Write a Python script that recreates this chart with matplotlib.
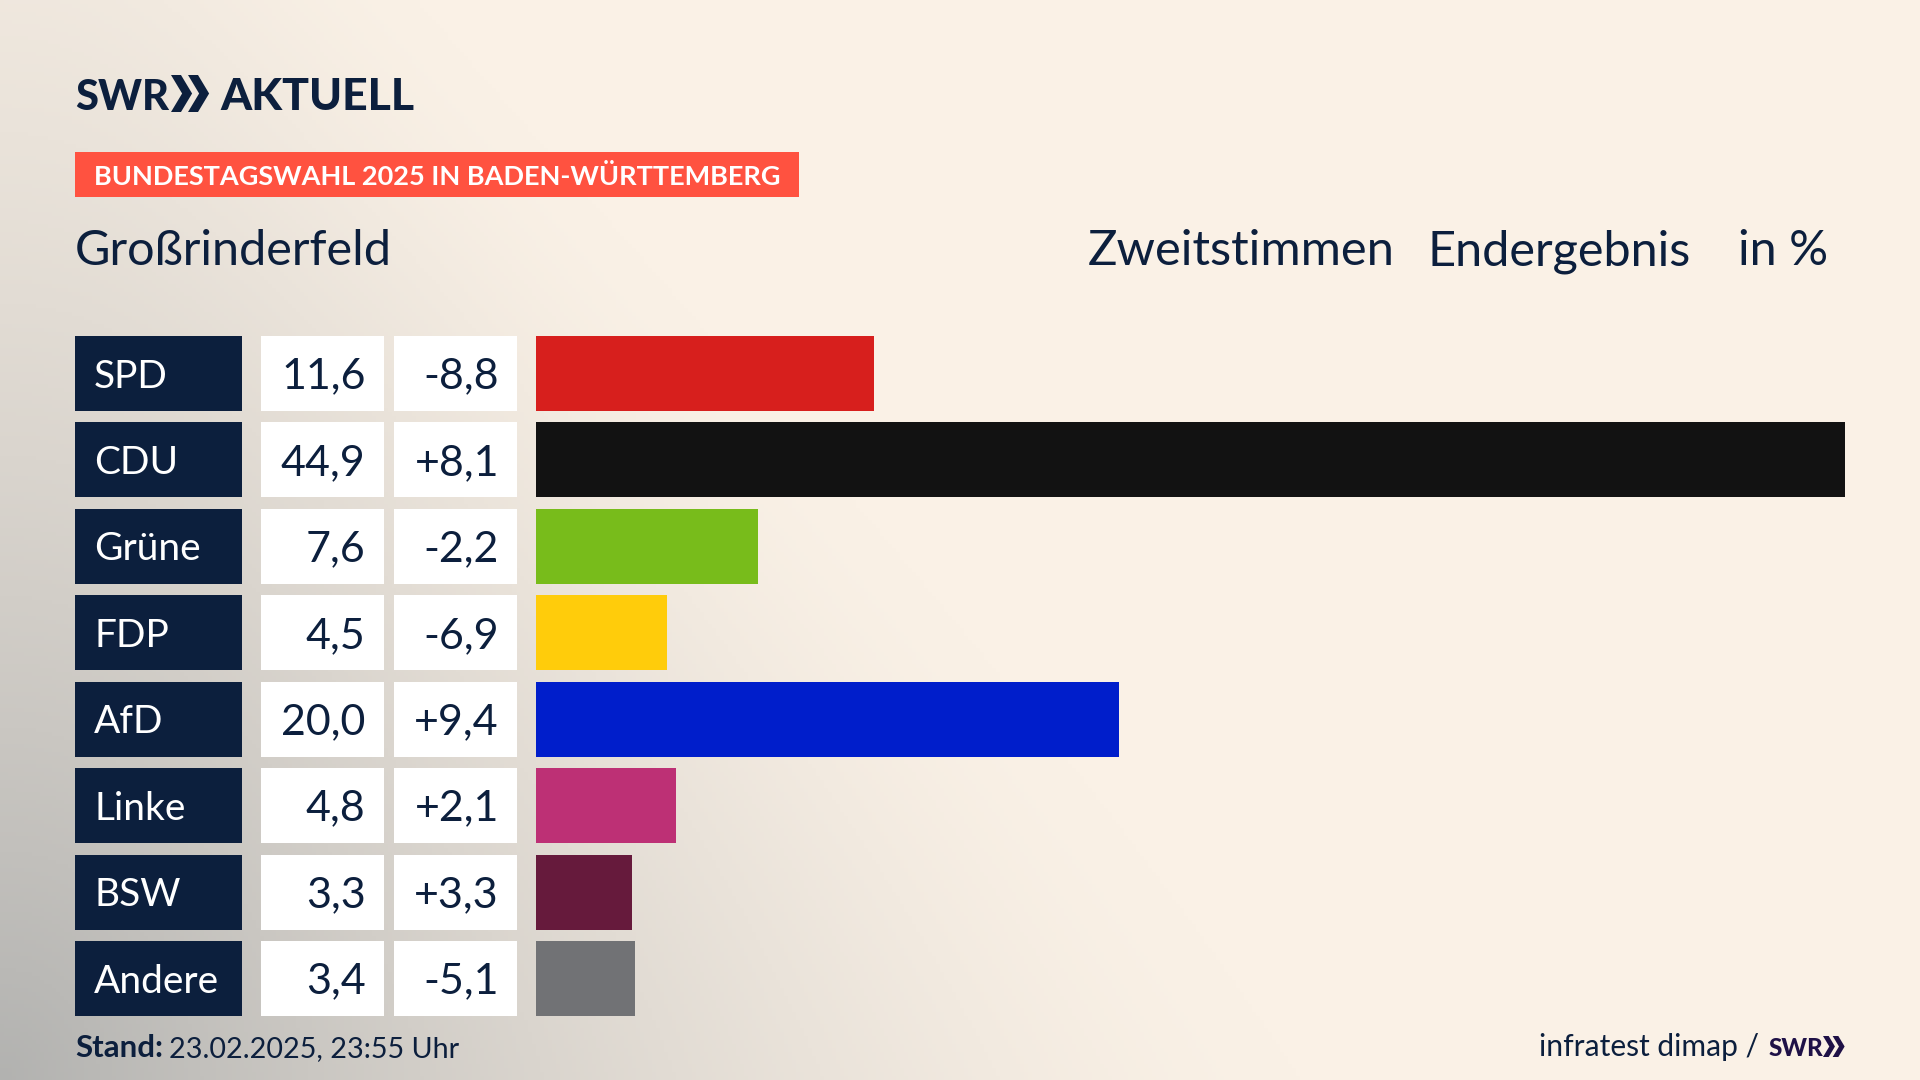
import numpy as np
import matplotlib
matplotlib.use("Agg")
import matplotlib.pyplot as plt
from matplotlib.patches import Rectangle, Polygon

parties = ["SPD", "CDU", "Grüne", "FDP", "AfD", "Linke", "BSW", "Andere"]
shares = [11.6, 44.9, 7.6, 4.5, 20.0, 4.8, 3.3, 3.4]
changes = ["-8,8", "+8,1", "-2,2", "-6,9", "+9,4", "+2,1", "+3,3", "-5,1"]
bar_colors = ["#D71F1D", "#121212", "#78BC1B", "#FFCC0B", "#001ECB", "#BD3075", "#661A3C", "#717275"]

NAVY = "#0C1F3D"
FONT = "Lato"

fig = plt.figure(figsize=(19.2, 10.8), dpi=100)

# pixel coordinates for everything around the bars
ax = fig.add_axes([0, 0, 1, 1])
ax.set_xlim(0, 1920)
ax.set_ylim(1080, 0)
ax.axis("off")

# background: cream with grey glow from the bottom left corner
xx, yy = np.meshgrid(np.arange(0, 1920, 4), np.arange(0, 1080, 4))
reach = 600 + 700 * yy / 1080
d = np.sqrt((xx / reach) ** 2 + ((1080 - yy) / 1500) ** 2)
t = np.clip(1 - d, 0, 1) ** 1.5
cream = np.array([250, 241, 230]) / 255
grey = np.array([178, 178, 176]) / 255
bg = cream + (grey - cream) * t[..., None]
ax.imshow(bg, extent=(0, 1920, 1080, 0), aspect="auto", zorder=0)


def chevrons(x, top, bottom, w, color):
    # the double arrow of the SWR logo
    mid = (top + bottom) / 2
    thick = w * 0.27
    cw = w * 0.57
    for off in (0, w * 0.46):
        x0 = x + off
        ax.add_patch(Polygon([
            (x0, top), (x0 + thick, top), (x0 + cw, mid),
            (x0 + thick, bottom), (x0, bottom), (x0 + cw - thick, mid),
        ], fc=color, ec="none", zorder=3))


# logo
ax.text(75, 110, "SWR", family=FONT, weight="black", fontsize=30, color=NAVY, va="baseline")
chevrons(171, 75, 112, 37, NAVY)
ax.text(220, 110, "AKTUELL", family=FONT, weight="black", fontsize=32, color=NAVY, va="baseline")

# banner
ax.add_patch(Rectangle((75, 152), 724, 45, fc="#FF5240", ec="none", zorder=2))
ax.text(94, 185, "BUNDESTAGSWAHL 2025 IN BADEN-WÜRTTEMBERG", family=FONT, weight="bold",
        fontsize=19.5, color="white", va="baseline", zorder=3)

# headings
ax.text(75, 265, "Großrinderfeld", family=FONT, fontsize=35, color=NAVY, va="baseline")
ax.text(1088, 265, "Zweitstimmen", family=FONT, fontsize=35.3, color=NAVY, va="baseline")
ax.text(1428, 265, "Endergebnis", family=FONT, fontsize=35, color=NAVY, va="baseline")
ax.text(1738, 265, "in %", family=FONT, fontsize=35, color=NAVY, va="baseline")

# table cells
row_top = 336
row_step = 86.43
row_h = 75
for i, (party, share, change) in enumerate(zip(parties, shares, changes)):
    top = row_top + i * row_step
    mid = top + row_h / 2 - 0.5
    ax.add_patch(Rectangle((75, top), 167, row_h, fc=NAVY, ec="none", zorder=2))
    ax.add_patch(Rectangle((261, top), 123, row_h, fc="white", ec="none", zorder=2))
    ax.add_patch(Rectangle((394, top), 123, row_h, fc="white", ec="none", zorder=2))
    ax.text(94, mid, party, family=FONT, fontsize=28, color="white", va="center_baseline", zorder=3)
    ax.text(365.5, mid, f"{share:.1f}".replace(".", ","), family=FONT, fontsize=31, color=NAVY,
            ha="right", va="center_baseline", zorder=3)
    ax.text(499, mid, change, family=FONT, fontsize=31, color=NAVY,
            ha="right", va="center_baseline", zorder=3)

# bars
ax_bars = fig.add_axes([536 / 1920, 1 - 1016 / 1080, 1309 / 1920, 680 / 1080])
h = row_h / row_step
ax_bars.barh(range(len(parties)), shares, height=h, color=bar_colors)
ax_bars.set_xlim(0, 44.9)
ax_bars.set_ylim(len(parties) - 1 + h / 2, -h / 2)
ax_bars.axis("off")

# footer
ax.text(75, 1057, "Stand:", family=FONT, weight="bold", fontsize=22.5, color=NAVY, va="baseline")
ax.text(169, 1057, "23.02.2025, 23:55 Uhr", family=FONT, fontsize=20.7, color=NAVY, va="baseline")
ax.text(1759, 1056, "infratest dimap /", family=FONT, fontsize=21.6, color=NAVY, ha="right", va="baseline")
ax.text(1769, 1056, "SWR", family=FONT, weight="black", fontsize=17.5, color="#1F1147", va="baseline")
chevrons(1823, 1036, 1057, 21, "#1F1147")

fig.savefig("out.png", dpi=100)
